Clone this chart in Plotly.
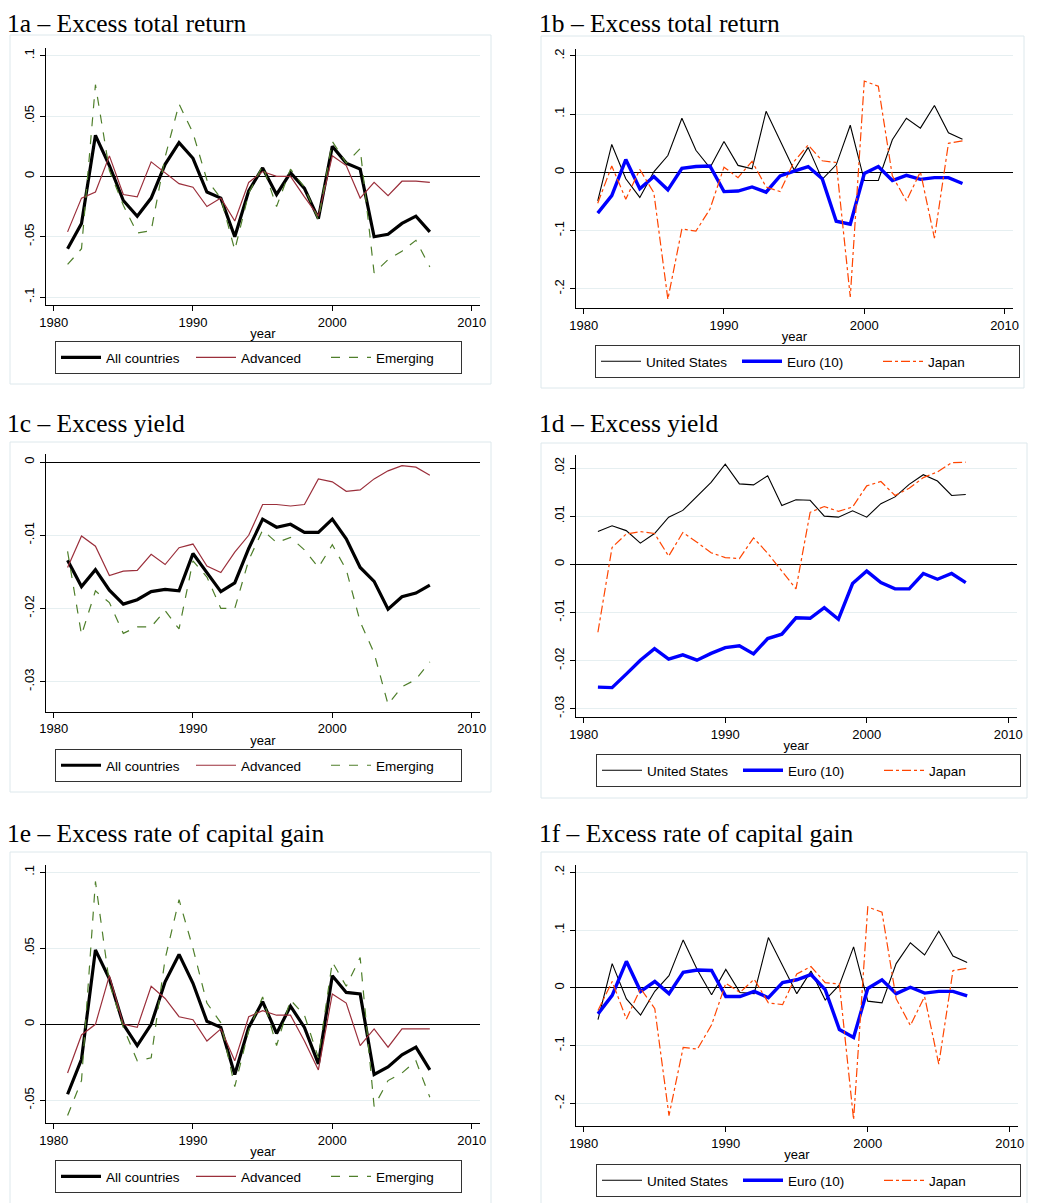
import plotly.graph_objects as go

# page body has an 8px margin: the figure is sized to fit the window
OFF = 8
W, H = 1044 - OFF, 1203 - OFF

years = list(range(1981, 2008))

# ---------- 1a Excess total return ----------
tr_all = [-0.060, -0.039, 0.034, 0.009, -0.020, -0.033, -0.018, 0.010, 0.028, 0.015,
          -0.013, -0.018, -0.050, -0.012, 0.007, -0.015, 0.003, -0.010, -0.035, 0.025,
          0.011, 0.006, -0.050, -0.048, -0.039, -0.033, -0.046]
tr_adv = [-0.046, -0.018, -0.013, 0.017, -0.015, -0.017, 0.012, 0.003, -0.006, -0.009,
          -0.025, -0.018, -0.037, -0.005, 0.004, 0.000, 0.000, -0.017, -0.033, 0.017,
          0.009, -0.018, -0.005, -0.016, -0.004, -0.004, -0.005]
tr_emg = [-0.073, -0.060, 0.076, 0.005, -0.024, -0.047, -0.045, 0.016, 0.060, 0.036,
          -0.003, -0.018, -0.061, -0.014, 0.009, -0.025, 0.006, -0.009, -0.036, 0.029,
          0.011, 0.023, -0.080, -0.069, -0.062, -0.053, -0.075]

# ---------- 1b Excess total return ----------
tr_us = [-0.049, 0.048, -0.011, -0.043, 0.001, 0.029, 0.093, 0.038, 0.008, 0.053,
         0.012, 0.006, 0.105, 0.053, 0.004, 0.043, -0.012, 0.013, 0.081, -0.014,
         -0.014, 0.056, 0.093, 0.076, 0.115, 0.068, 0.057]
tr_euro = [-0.070, -0.040, 0.022, -0.028, -0.007, -0.030, 0.007, 0.010, 0.011, -0.033,
           -0.032, -0.025, -0.034, -0.006, 0.002, 0.010, -0.011, -0.084, -0.089, -0.002,
           0.010, -0.014, -0.005, -0.012, -0.009, -0.009, -0.019]
tr_jp = [-0.053, 0.011, -0.046, 0.005, -0.035, -0.218, -0.097, -0.101, -0.063, 0.009,
         -0.009, 0.019, -0.025, -0.033, 0.019, 0.047, 0.020, 0.017, -0.214, 0.157,
         0.148, -0.006, -0.049, 0.001, -0.113, 0.050, 0.054]

# ---------- 1c Excess yield ----------
y_all = [-0.0134, -0.0170, -0.0147, -0.0175, -0.0194, -0.0188, -0.0177, -0.0174, -0.0176, -0.0125,
         -0.0151, -0.0177, -0.0165, -0.0118, -0.0078, -0.0089, -0.0085, -0.0096, -0.0096, -0.0078,
         -0.0105, -0.0144, -0.0163, -0.0201, -0.0184, -0.0179, -0.0168]
y_adv = [-0.0144, -0.0101, -0.0115, -0.0155, -0.0149, -0.0148, -0.0126, -0.0140, -0.0117, -0.0112,
         -0.0142, -0.0151, -0.0123, -0.0100, -0.0058, -0.0058, -0.0060, -0.0058, -0.0023, -0.0027,
         -0.0040, -0.0038, -0.0023, -0.0012, -0.0005, -0.0007, -0.0018]
y_emg = [-0.0122, -0.0236, -0.0176, -0.0192, -0.0234, -0.0225, -0.0225, -0.0203, -0.0228, -0.0135,
         -0.0157, -0.0200, -0.0200, -0.0134, -0.0093, -0.0110, -0.0103, -0.0120, -0.0144, -0.0113,
         -0.0147, -0.0218, -0.0261, -0.0331, -0.0307, -0.0297, -0.0273]

# ---------- 1d Excess yield ----------
y_us = [0.0068, 0.0080, 0.0070, 0.0044, 0.0064, 0.0098, 0.0112, 0.0140, 0.0170, 0.0208,
        0.0167, 0.0165, 0.0184, 0.0122, 0.0134, 0.0133, 0.0100, 0.0098, 0.0111, 0.0098,
        0.0126, 0.0140, 0.0166, 0.0186, 0.0173, 0.0143, 0.0145]
y_euro = [-0.0255, -0.0256, -0.0228, -0.0199, -0.0175, -0.0197, -0.0188, -0.0199, -0.0185, -0.0173,
          -0.0169, -0.0186, -0.0154, -0.0145, -0.0111, -0.0112, -0.0090, -0.0114, -0.0040, -0.0014,
          -0.0038, -0.0051, -0.0051, -0.0019, -0.0031, -0.0019, -0.0038]
y_jp = [-0.0141, 0.0035, 0.0063, 0.0068, 0.0064, 0.0017, 0.0066, 0.0046, 0.0024, 0.0014,
        0.0012, 0.0055, 0.0023, -0.0014, -0.0051, 0.0108, 0.0120, 0.0110, 0.0119, 0.0163,
        0.0172, 0.0143, 0.0158, 0.0180, 0.0192, 0.0211, 0.0212]

# ---------- 1e Excess rate of capital gain ----------
cg_all = [-0.046, -0.023, 0.049, 0.030, 0.000, -0.014, 0.000, 0.028, 0.046, 0.027,
          0.002, -0.002, -0.033, -0.002, 0.015, -0.006, 0.012, -0.002, -0.026, 0.032,
          0.021, 0.020, -0.033, -0.028, -0.020, -0.015, -0.030]
cg_adv = [-0.032, -0.007, 0.000, 0.032, 0.000, -0.002, 0.025, 0.017, 0.005, 0.003,
          -0.011, -0.003, -0.024, 0.005, 0.009, 0.006, 0.006, -0.011, -0.030, 0.020,
          0.014, -0.014, -0.003, -0.015, -0.003, -0.003, -0.003]
cg_emg = [-0.060, -0.037, 0.094, 0.027, -0.002, -0.024, -0.022, 0.043, 0.082, 0.050,
          0.014, 0.001, -0.041, -0.004, 0.018, -0.014, 0.016, 0.006, -0.022, 0.041,
          0.025, 0.044, -0.054, -0.037, -0.032, -0.024, -0.048]

# ---------- 1f Excess rate of capital gain ----------
cg_us = [-0.055, 0.042, -0.019, -0.047, -0.006, 0.021, 0.083, 0.031, -0.012, 0.032,
         -0.008, -0.010, 0.087, 0.038, -0.010, 0.029, -0.021, 0.005, 0.071, -0.023,
         -0.026, 0.042, 0.078, 0.057, 0.098, 0.055, 0.044]
cg_euro = [-0.045, -0.013, 0.046, -0.006, 0.011, -0.010, 0.027, 0.031, 0.030, -0.015,
           -0.015, -0.006, -0.017, 0.009, 0.014, 0.023, -0.003, -0.072, -0.086, -0.001,
           0.014, -0.010, 0.001, -0.009, -0.006, -0.006, -0.014]
cg_jp = [-0.039, 0.011, -0.054, -0.001, -0.036, -0.221, -0.103, -0.106, -0.064, 0.008,
         -0.008, 0.015, -0.026, -0.029, 0.024, 0.037, 0.009, 0.007, -0.228, 0.140,
         0.131, -0.019, -0.065, -0.015, -0.132, 0.030, 0.034]

group_names = ["All countries", "Advanced", "Emerging"]
country_names = ["United States", "Euro (10)", "Japan"]

titles = ["1a \u2013 Excess total return", "1b \u2013 Excess total return",
          "1c \u2013 Excess yield", "1d \u2013 Excess yield",
          "1e \u2013 Excess rate of capital gain", "1f \u2013 Excess rate of capital gain"]

x_ticks = [1980, 1990, 2000, 2010]
x_ticklabels = ["1980", "1990", "2000", "2010"]

yt_a = [-0.1, -0.05, 0, 0.05, 0.1]
yl_a = ["-.1", "-.05", "0", ".05", ".1"]
yt_b = [-0.2, -0.1, 0, 0.1, 0.2]
yl_b = ["-.2", "-.1", "0", ".1", ".2"]
yt_c = [-0.03, -0.02, -0.01, 0]
yl_c = ["-.03", "-.02", "-.01", "0"]
yt_d = [-0.03, -0.02, -0.01, 0, 0.01, 0.02]
yl_d = ["-.03", "-.02", "-.01", "0", ".01", ".02"]
yt_e = [-0.05, 0, 0.05, 0.1]
yl_e = ["-.05", "0", ".05", ".1"]
yt_f = yt_b
yl_f = yl_b

# ---------- layout geometry (window pixels) ----------
panels = [
    dict(data=[tr_all, tr_adv, tr_emg], kind="grp", plot=(45.7, 480, 48, 305),
         yr=(-0.1066, 0.1064), yt=yt_a, yl=yl_a, box=(10, 491, 35, 384),
         leg=(55, 341), title=(6, 8)),
    dict(data=[tr_us, tr_euro, tr_jp], kind="cty", plot=(575.7, 1013, 49, 308),
         yr=(-0.233, 0.212), yt=yt_b, yl=yl_b, box=(541, 1024, 36, 388),
         leg=(595, 345), title=(538, 8)),
    dict(data=[y_all, y_adv, y_emg], kind="grp", plot=(45.7, 480, 454, 711.7),
         yr=(-0.0341, 0.0011), yt=yt_c, yl=yl_c, box=(10, 491, 442, 792),
         leg=(55, 749), title=(6, 408)),
    dict(data=[y_us, y_euro, y_jp], kind="cty", plot=(575.7, 1016.7, 455, 717),
         yr=(-0.0317, 0.0227), yt=yt_d, yl=yl_d, box=(541, 1027, 443, 798),
         leg=(596, 754), title=(538, 408)),
    dict(data=[cg_all, cg_adv, cg_emg], kind="grp", plot=(45.7, 480, 865, 1123),
         yr=(-0.0649, 0.1048), yt=yt_e, yl=yl_e, box=(10, 491, 852, 1215),
         leg=(55, 1160), title=(6, 818)),
    dict(data=[cg_us, cg_euro, cg_jp], kind="cty", plot=(575.7, 1018.3, 865, 1126),
         yr=(-0.239, 0.2126), yt=yt_f, yl=yl_f, box=(541, 1027, 852, 1215),
         leg=(596, 1164), title=(538, 818)),
]

grp_styles = [dict(color="#000000", width=3.2, dash="solid"),
              dict(color="#9b2f3b", width=1.2, dash="solid"),
              dict(color="#4f7f2b", width=1.2, dash="dash")]
cty_styles = [dict(color="#000000", width=1.1, dash="solid"),
              dict(color="#0000ff", width=3.4, dash="solid"),
              dict(color="#ff4500", width=1.2, dash="dashdot")]

FONT = "Liberation Sans, Arial, sans-serif"
fig = go.Figure()
layout = dict(width=W, height=H, margin=dict(l=0, r=0, t=0, b=0, autoexpand=False),
              paper_bgcolor="white", plot_bgcolor="white", showlegend=True,
              annotations=[], shapes=[])

def px(x):
    return (x - OFF) / W

def py(y):
    return 1 - (y - OFF) / H

for i, p in enumerate(panels):
    k = i + 1
    xa = "x" if k == 1 else f"x{k}"
    ya = "y" if k == 1 else f"y{k}"
    legname = "legend" if k == 1 else f"legend{k}"
    names = group_names if p["kind"] == "grp" else country_names
    styles = grp_styles if p["kind"] == "grp" else cty_styles
    for series, nm, st in zip(p["data"], names, styles):
        fig.add_trace(go.Scatter(x=years, y=series, mode="lines", name=nm,
                                 line=dict(color=st["color"], width=st["width"], dash=st["dash"]),
                                 xaxis=xa, yaxis=ya, legend=legname, hoverinfo="skip"))
    x0, x1, y0, y1 = p["plot"]
    xkey = "xaxis" if k == 1 else f"xaxis{k}"
    ykey = "yaxis" if k == 1 else f"yaxis{k}"
    layout[xkey] = dict(domain=[px(x0), px(x1)], anchor=ya, range=[1979.43, 2010.6],
                        tickvals=x_ticks, ticktext=x_ticklabels, ticks="outside", ticklen=5,
                        tickcolor="black", showline=True, linecolor="black", linewidth=1.3,
                        showgrid=False, zeroline=False,
                        tickfont=dict(family=FONT, size=13, color="black"),
                        title=dict(text="year", font=dict(family=FONT, size=13, color="black"),
                                   standoff=0))
    layout[ykey] = dict(domain=[py(y1), py(y0)], anchor=xa, range=list(p["yr"]),
                        tickvals=p["yt"], ticktext=p["yl"], ticks="outside", ticklen=5,
                        tickcolor="black", showline=True, linecolor="black", linewidth=1.3,
                        showgrid=True, gridcolor="#e6eff1", gridwidth=1,
                        zeroline=True, zerolinecolor="black", zerolinewidth=1.3,
                        tickangle=-90,
                        tickfont=dict(family=FONT, size=13, color="black"))
    lx, ly = p["leg"]
    ew = 80 if p["kind"] == "grp" else 86
    layout[legname] = dict(x=px(lx), y=py(ly), xanchor="left", yanchor="top",
                           orientation="h", bordercolor="#333333", borderwidth=1,
                           bgcolor="white", entrywidth=ew, entrywidthmode="pixels",
                           font=dict(family=FONT, size=13.5, color="black"),
                           itemwidth=40, tracegroupgap=0)
    bx0, bx1, by0, by1 = p["box"]
    layout["shapes"].append(dict(type="rect", xref="paper", yref="paper",
                                 x0=px(bx0), x1=px(bx1), y0=py(by1), y1=py(by0),
                                 line=dict(color="#dde8ec", width=1), fillcolor="rgba(0,0,0,0)",
                                 layer="below"))
    tx, ty = p["title"]
    layout["annotations"].append(dict(text=titles[i], xref="paper", yref="paper",
                                      x=px(tx), y=py(ty), xanchor="left", yanchor="top",
                                      showarrow=False, borderpad=0,
                                      font=dict(family="Liberation Serif, Times New Roman, serif",
                                                size=25.5, color="black")))

fig.update_layout(**layout)
fig.write_html("out.html")
